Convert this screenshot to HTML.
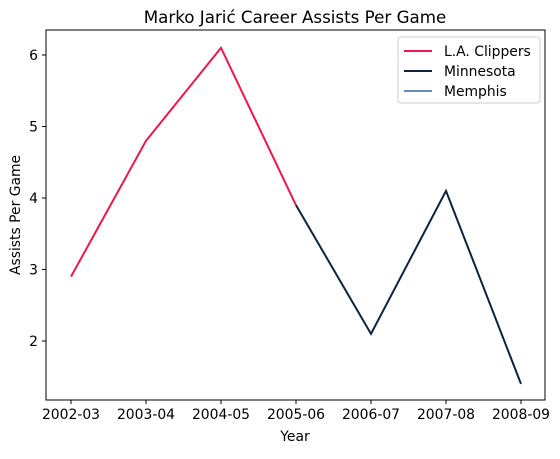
<!DOCTYPE html>
<html><head><meta charset="utf-8"><style>
body{margin:0;background:#fff;width:560px;height:454px;overflow:hidden}
svg text{font-family:"DejaVu Sans","Liberation Sans",sans-serif;fill:#000}
</style></head><body>
<svg id="chart" width="560" height="454">
<text x="295" y="23" font-size="16.7" text-anchor="middle">Marko Jarić Career Assists Per Game</text>
<g id="plot"></g>
<text x="295" y="441" font-size="13.9" text-anchor="middle">Year</text>
<text x="20" y="215" font-size="13.9" text-anchor="middle" transform="rotate(-90 20 215)">Assists Per Game</text>
</svg>
<script>
const seasons=["2002-03","2003-04","2004-05","2005-06","2006-07","2007-08","2008-09"];
const clippersValues=[2.9,4.8,6.1,3.9];
const minnesotaValues=[3.9,2.1,4.1,1.4];
const minnesotaStart=3;
const yTicks=[2,3,4,5,6];
const legendLabels=["L.A. Clippers","Minnesota","Memphis"];
const colors=["#ED174B","#0C2340","#6189B9"];
const L=46,R=545,T=30,B=400;
const xs=i=>71+i*75;
const ys=v=>341-(v-2)*71.5;
const NS="http://www.w3.org/2000/svg";
const g=document.getElementById('plot');
function mk(t,a){const e=document.createElementNS(NS,t);for(const k in a)e.setAttribute(k,a[k]);g.appendChild(e);return e;}
seasons.forEach((s,i)=>{
 const tk=mk('line',{x1:xs(i),x2:xs(i),y1:B,y2:B+4,stroke:'#000'});
 
 
 const t=mk('text',{x:xs(i),y:B+19,'font-size':13.9,'text-anchor':'middle'});t.textContent=s;
 
 
});
yTicks.forEach(v=>{
 const tk=mk('line',{x1:L-4,x2:L,y1:ys(v),y2:ys(v),stroke:'#000'});
 
 
 const t=mk('text',{x:L-8,y:ys(v)+5,'font-size':13.9,'text-anchor':'end'});t.textContent=v;
 
 
});
const c=mk('polyline',{points:clippersValues.map((v,i)=>xs(i)+','+ys(v)).join(' '),fill:'none',stroke:colors[0],'stroke-width':2});


const m=mk('polyline',{points:minnesotaValues.map((v,i)=>xs(i+minnesotaStart)+','+ys(v)).join(' '),fill:'none',stroke:colors[1],'stroke-width':2});


const fr=mk('rect',{x:L,y:T,width:R-L,height:B-T,fill:'none',stroke:'#000','stroke-width':1});


const lb=mk('rect',{x:398,y:37,width:142,height:66,rx:3,fill:'#fff','fill-opacity':0.8,stroke:'#ccc'});


legendLabels.forEach((s,i)=>{
 const y=51+i*20;
 const l=mk('line',{x1:404,x2:432,y1:y,y2:y,stroke:colors[i],'stroke-width':2});
 
 
 const t=mk('text',{x:444,y:y+5,'font-size':13.9});t.textContent=s;
 
 
});
</script>
</body></html>
